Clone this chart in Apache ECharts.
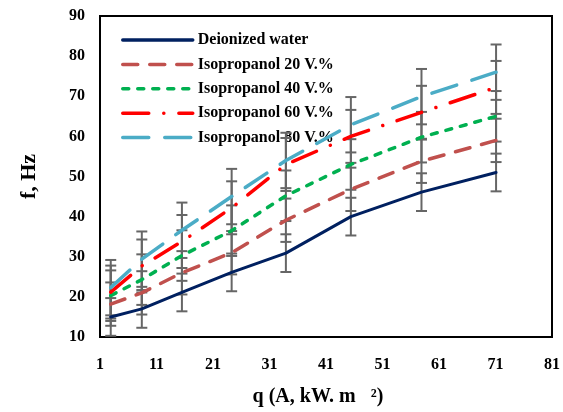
<!DOCTYPE html>
<html>
<head>
<meta charset="utf-8">
<script src="https://cdn.jsdelivr.net/npm/echarts@6/dist/echarts.min.js"></script>
<style>
  html, body { margin: 0; padding: 0; background: #ffffff; }
  #chart { width: 563px; height: 412px; }
</style>
</head>
<body>
<div id="chart"></div>
<script>
// Heat flux values where the bubble frequency was measured
const heatFlux = [2.9, 8.4, 15.5, 24.3, 33.9, 45.4, 57.9, 71.1];

// Bubble departure frequency f (Hz) for each liquid
const deionizedWater = [15.0, 17.0, 21.1, 26.1, 30.9, 40.0, 46.1, 51.0];
const isopropanol20 = [18.2, 21.0, 26.0, 31.0, 39.1, 46.8, 53.8, 59.0];
const isopropanol40 = [20.3, 24.3, 30.3, 36.5, 45.2, 53.0, 59.8, 65.0];
const isopropanol60 = [21.2, 27.7, 33.8, 42.2, 53.0, 60.0, 66.0, 72.2];
const isopropanol80 = [22.3, 29.4, 36.6, 45.0, 54.0, 62.9, 69.9, 76.0];

// Error bar half-height (Hz) of each series
const errorSizes = [4.7, 5.4, 6.3, 6.6, 6.9];

const seriesNames = [
  'Deionized water',
  'Isopropanol 20 V.%',
  'Isopropanol 40 V.%',
  'Isopropanol 60 V.%',
  'Isopropanol 80 V.%'
];

// Axis ranges
const xAxisRange = [1, 81, 10];
const yAxisRange = [10, 90, 10];

const seriesValues = [deionizedWater, isopropanol20, isopropanol40, isopropanol60, isopropanol80];
const seriesColors = ['#002060', '#C0504D', '#00B050', '#FF0000', '#4BACC6'];
const seriesDashes = ['solid', [15, 12], [6, 9], [26, 15, 0.1, 15], [26, 16]];

const FONT = '"Liberation Serif", "Times New Roman", serif';

function renderErrorBar(params, api) {
  const x = api.value(0);
  const top = api.coord([x, api.value(2)]);
  const bot = api.coord([x, api.value(1)]);
  const hw = 5.5;
  const style = { stroke: '#666666', lineWidth: 2 };
  return {
    type: 'group',
    children: [
      { type: 'line', shape: { x1: top[0], y1: top[1], x2: bot[0], y2: bot[1] }, style },
      { type: 'line', shape: { x1: top[0] - hw, y1: top[1], x2: top[0] + hw, y2: top[1] }, style },
      { type: 'line', shape: { x1: bot[0] - hw, y1: bot[1], x2: bot[0] + hw, y2: bot[1] }, style }
    ]
  };
}

const series = [];
seriesValues.forEach((vals, i) => {
  series.push({
    name: seriesNames[i] + ' error',
    type: 'custom',
    z: 2,
    silent: true,
    renderItem: renderErrorBar,
    data: vals.map((v, k) => [heatFlux[k], v - errorSizes[i], v + errorSizes[i]])
  });
});
seriesValues.forEach((vals, i) => {
  series.push({
    name: seriesNames[i],
    type: 'line',
    z: 3,
    symbol: 'none',
    showSymbol: false,
    smooth: false,
    color: seriesColors[i],
    lineStyle: {
      color: seriesColors[i],
      width: i === 0 ? 3 : 3.5,
      type: seriesDashes[i],
      cap: 'round'
    },
    data: vals.map((v, k) => [heatFlux[k], v])
  });
});

const chart = echarts.init(document.getElementById('chart'), null, { renderer: 'canvas' });
chart.setOption({
  animation: false,
  backgroundColor: '#ffffff',
  grid: {
    left: 100, right: 10, top: 16, bottom: 70,
    show: true, borderColor: '#000000', borderWidth: 2, backgroundColor: 'transparent'
  },
  legend: {
    z: 1,
    orient: 'vertical',
    left: 116,
    top: 27,
    itemWidth: 70,
    itemHeight: 14,
    itemGap: 8.4,
    itemStyle: { opacity: 0 },
    lineStyle: { width: 3.5 },
    data: seriesNames,
    textStyle: { fontFamily: FONT, fontWeight: 'bold', fontSize: 16, color: '#000000' }
  },
  xAxis: {
    type: 'value',
    min: xAxisRange[0], max: xAxisRange[1], interval: xAxisRange[2],
    name: 'q (A, kW. m   ²)',
    nameLocation: 'middle',
    nameGap: 50,
    nameTextStyle: {
      fontFamily: FONT, fontWeight: 'bold', fontSize: 20, color: '#000000',
      padding: [0, 16, 0, 0]
    },
    axisLine: { show: true, lineStyle: { color: '#000000', width: 2 } },
    axisTick: { show: false },
    splitLine: { show: false },
    axisLabel: { margin: 20, fontFamily: FONT, fontWeight: 'bold', fontSize: 16, color: '#000000' }
  },
  yAxis: {
    type: 'value',
    min: yAxisRange[0], max: yAxisRange[1], interval: yAxisRange[2],
    name: 'f, Hz',
    nameLocation: 'middle',
    nameGap: 60,
    nameRotate: 90,
    nameTextStyle: { fontFamily: FONT, fontWeight: 'bold', fontSize: 22, color: '#000000' },
    axisLine: { show: true, lineStyle: { color: '#000000', width: 2 } },
    axisTick: { show: false },
    splitLine: { show: false },
    axisLabel: { margin: 15, fontFamily: FONT, fontWeight: 'bold', fontSize: 16, color: '#000000' }
  },
  series
});
</script>
</body>
</html>
